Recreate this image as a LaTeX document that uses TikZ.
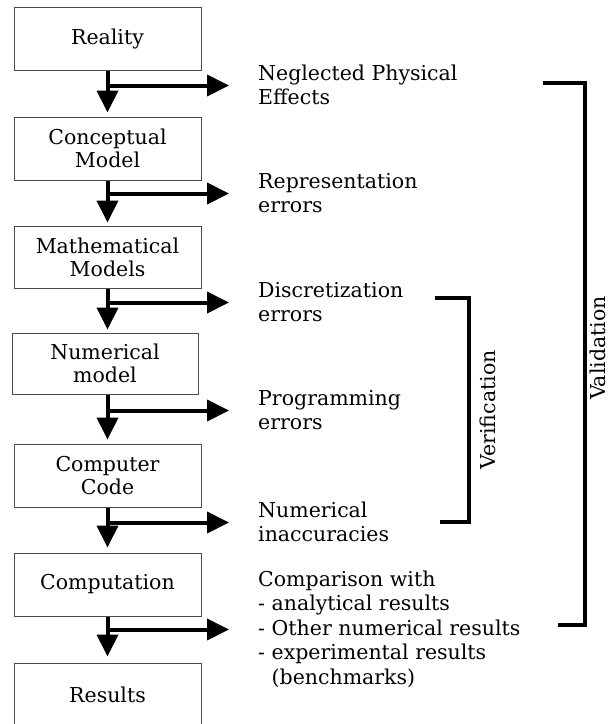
\documentclass[tikz,border=0pt]{standalone}
\usepackage{fontspec}
\setmainfont{DejaVu Serif}
\usetikzlibrary{arrows.meta}
\begin{document}
\begin{tikzpicture}[x=1pt,y=-1pt,
  box/.style={draw=black!70,line width=1pt,minimum width=187pt,minimum height=63pt,align=center,inner sep=0pt,
    font=\fontsize{20.5}{23}\selectfont},
  lbl/.style={anchor=west,align=left,inner sep=0pt,font=\fontsize{20.5}{24.5}\selectfont},
  flow/.style={line width=4pt,-{Triangle[length=22pt,width=21pt]}},
  brk/.style={line width=4pt,line join=miter,line cap=butt},
  side/.style={rotate=90,inner sep=0pt,font=\fontsize{20.5}{24}\selectfont}]
\useasboundingbox (0,0) rectangle (613,724);
% boxes
\node[box] (real) at (107.5,38.5) {Reality};
\node[box] (conc) at (107.5,148.5) {Conceptual\\Model};
\node[box,minimum height=62pt] (math) at (107.5,257) {Mathematical\\Models};
\node[box,minimum width=186pt,minimum height=61pt] (num) at (105,363.5) {Numerical\\model};
\node[box] (code) at (107.5,475.5) {Computer\\Code};
\node[box] (comp) at (107.5,584.5) {Computation};
\node[box] (res) at (107.5,694.5) {Results};
% side texts
\node[lbl] (t1) at (258,85) {Neglected Physical\\Effects};
\node[lbl] (t2) at (258,193) {Representation\\errors};
\node[lbl] (t3) at (258,302) {Discretization\\errors};
\node[lbl] (t4) at (258,410) {Programming\\errors};
\node[lbl] (t5) at (258,522) {Numerical\\inaccuracies};
\node[lbl] (t6) at (258,629) {Comparison with\\- analytical results\\- Other numerical results\\- experimental results\\\phantom{- }(benchmarks)};
% branch points
\coordinate (b1) at ([yshift=-15pt]real.south);
\coordinate (b2) at ([yshift=-13pt]conc.south);
\coordinate (b3) at ([yshift=-14pt]math.south);
\coordinate (b4) at ([xshift=2.5pt,yshift=-16pt]num.south);
\coordinate (b5) at ([yshift=-15pt]code.south);
\coordinate (b6) at ([yshift=-13pt]comp.south);
% vertical flow
\draw[flow,shorten >=4pt] (real.south) -- (conc.north);
\draw[flow,shorten >=3pt] (conc.south) -- (math.north);
\draw[flow,shorten >=3pt] (math.south) -- ([xshift=2.5pt]num.north);
\draw[flow,shorten >=4pt] ([xshift=2.5pt]num.south) -- (code.north);
\draw[flow,shorten >=5pt] (code.south) -- (comp.north);
\draw[flow,shorten >=6pt] (comp.south) -- (res.north);
% branches
\draw[flow,shorten >=29pt] (b1) -- (b1 -| t1.west);
\draw[flow,shorten >=29pt] (b2) -- (b2 -| t2.west);
\draw[flow,shorten >=29pt] (b3) -- (b3 -| t3.west);
\draw[flow,shorten >=29pt] (b4) -- (b4 -| t4.west);
\draw[flow,shorten >=29pt] (b5) -- (b5 -| t5.west);
\draw[flow,shorten >=29pt] (b6) -- (b6 -| t6.west);
% brackets
\coordinate (va1) at (543,83);
\coordinate (va2) at (585,83);
\coordinate (va3) at (585,625);
\coordinate (va4) at (558,625);
\draw[brk] (va1) -- (va2) -- (va3) -- (va4);
\node[side] (val) at (598,348) {Validation};
\coordinate (ve1) at (435,298);
\coordinate (ve2) at (469,298);
\coordinate (ve3) at (469,522);
\coordinate (ve4) at (440,522);
\draw[brk] (ve1) -- (ve2) -- (ve3) -- (ve4);
\node[side] (ver) at (488,410) {Verification};
\end{tikzpicture}
\end{document}
